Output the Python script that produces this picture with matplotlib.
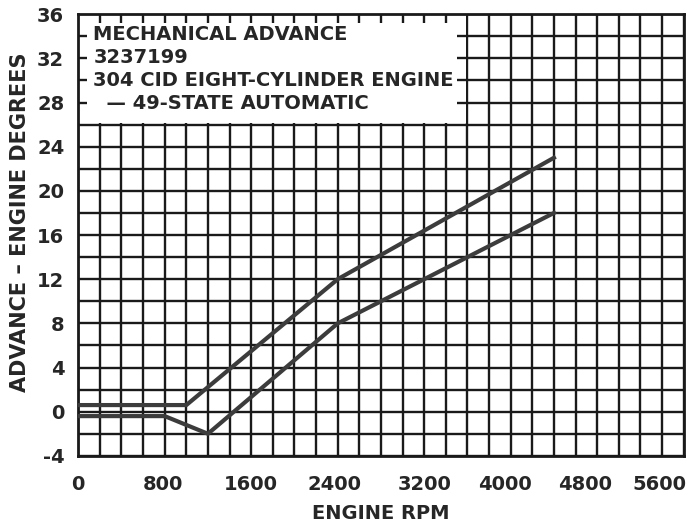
import matplotlib
matplotlib.use("Agg")
import matplotlib.pyplot as plt
from matplotlib.patches import Rectangle
from matplotlib.transforms import ScaledTranslation
import numpy as np

# curve data (rpm, degrees)
upper_rpm = [0, 1000, 2400, 4400]
upper_adv = [0.6, 0.6, 12.0, 23.0]
lower_rpm = [0, 800, 1200, 2400, 4400]
lower_adv = [-0.4, -0.4, -2.0, 8.0, 18.0]

x_ticks = [0, 800, 1600, 2400, 3200, 4000, 4800, 5600]
y_ticks = [-4, 0, 4, 8, 12, 16, 20, 24, 28, 32, 36]
title_lines = ["MECHANICAL ADVANCE", "3237199",
               "304 CID EIGHT-CYLINDER ENGINE", "  \u2014 49-STATE AUTOMATIC"]

plt.rcParams['font.family'] = ['DejaVu Sans']
ink = '#262626'
grid_c = '#1a1a1a'

fig = plt.figure(figsize=(6.92, 5.27), dpi=100)
ax = fig.add_axes([0.113, 0.135, 0.875, 0.838])
ax.set_xlim(0, 5600)
ax.set_ylim(-4, 36)

# grid: every 200 rpm / 2 degrees
ax.set_xticks(np.arange(0, 5601, 200), minor=True)
ax.set_yticks(np.arange(-4, 37, 2), minor=True)
ax.set_xticks(x_ticks)
ax.set_yticks(y_ticks)
ax.set_xticklabels([str(v) for v in x_ticks], fontsize=14, fontweight='bold', color=ink)
ax.set_yticklabels([str(v) for v in y_ticks], fontsize=14, fontweight='bold', color=ink)
ax.tick_params(which='both', length=0)
ax.tick_params(axis='x', pad=14)
ax.tick_params(axis='y', pad=10)
ax.set_axisbelow(True)
ax.grid(which='both', color=grid_c, linewidth=1.7)
for s in ax.spines.values():
    s.set_color(grid_c)
    s.set_linewidth(2.0)

# the printed labels drift left toward the right end
shifts = [0, -2, 0, -3, 0, -6, -12, -24]
for lab, dx in zip(ax.get_xticklabels(), shifts):
    lab.set_transform(lab.get_transform() + ScaledTranslation(dx / 100, 0, fig.dpi_scale_trans))

# white label panel over the grid, with short grid stubs left at its edges
ax.add_patch(Rectangle((0, 26.12), 3589, 9.88, facecolor='white', edgecolor='none', zorder=1))
stub_x = np.arange(200, 3401, 200)
stub_y = np.arange(28, 35, 2)
ax.vlines(stub_x, 36 - 0.75, 36, color=grid_c, linewidth=1.7, zorder=1.5)
ax.hlines(stub_y, 0, 85, color=grid_c, linewidth=1.7, zorder=1.5)
ax.hlines(stub_y, 3500, 3600, color=grid_c, linewidth=1.7, zorder=1.5)

ax.text(140, 35.0, "\n".join(title_lines), fontsize=14, fontweight='bold',
        color=ink, va='top', ha='left', linespacing=1.25, zorder=4)

ax.plot(upper_rpm, upper_adv, color='#3c3c3c', linewidth=3.0, zorder=3)
ax.plot(lower_rpm, lower_adv, color='#3c3c3c', linewidth=3.0, zorder=3)

ax.set_xlabel("ENGINE RPM", fontsize=14, fontweight='bold', color=ink, labelpad=7)
ax.set_ylabel("ADVANCE \u2013 ENGINE DEGREES", fontsize=15, fontweight='bold',
              color=ink, labelpad=5)
ax.yaxis.label.set_y(0.53)

fig.savefig("out.png", dpi=100)
